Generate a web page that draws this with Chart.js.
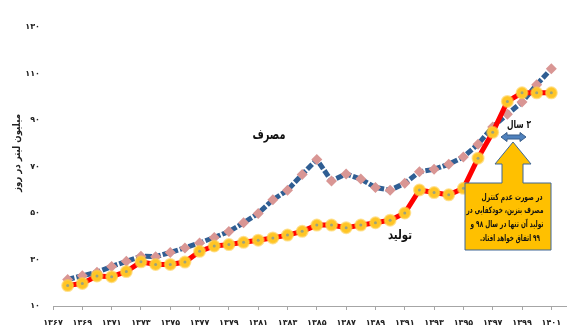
<!DOCTYPE html>
<html>
<head>
<meta charset="utf-8">
<script src="https://cdn.jsdelivr.net/npm/chart.js@4"></script>
<style>
  html, body { margin: 0; padding: 0; background: #fff; }
</style>
</head>
<body>
<canvas id="fuelChart" width="580" height="333"></canvas>
<script>
// --- Data: gasoline, million litres per day ---
const years = [1368, 1369, 1370, 1371, 1372, 1373, 1374, 1375, 1376, 1377,
               1378, 1379, 1380, 1381, 1382, 1383, 1384, 1385, 1386, 1387,
               1388, 1389, 1390, 1391, 1392, 1393, 1394, 1395, 1396, 1397,
               1398, 1399, 1400, 1401];
const consumption = [21.4, 23.0, 24.5, 27.0, 29.2, 31.4, 31.2, 33.0, 35.0, 37.1,
                     39.5, 42.0, 45.8, 49.8, 55.7, 59.8, 66.6, 73.0, 63.8, 66.8,
                     64.6, 61.0, 59.8, 62.8, 67.7, 68.8, 71.0, 74.1, 79.6, 87.0,
                     92.5, 97.7, 105.2, 112.0];
const production = [18.8, 19.7, 22.9, 22.6, 24.8, 29.0, 27.9, 27.9, 28.9, 33.5,
                    35.8, 36.4, 37.4, 38.3, 39.3, 40.5, 42.1, 44.8, 44.8, 43.7,
                    44.8, 45.8, 46.9, 50.0, 59.9, 58.8, 57.8, 60.6, 73.6, 84.7,
                    98.0, 101.7, 101.7, 101.7];
const yearTicks = [1367, 1369, 1371, 1373, 1375, 1377, 1379, 1381, 1383,
                   1385, 1387, 1389, 1391, 1393, 1395, 1397, 1399, 1401];
const valueTicks = [10, 30, 50, 70, 90, 110, 130];

const FONT = "'DejaVu Sans', sans-serif";

// western -> persian digits
const fa = n => String(n).replace(/\d/g, d => '۰۱۲۳۴۵۶۷۸۹'[d]);

const pts = vals => years.map((y, i) => ({ x: y, y: vals[i] }));

// --- Labels, callout and arrows on top of the lines ---
const notes = {
  id: 'notes',
  afterDatasetsDraw(chart) {
    const ctx = chart.ctx;
    ctx.save();

    // y axis title
    ctx.save();
    ctx.translate(17, 153);
    ctx.rotate(-Math.PI / 2);
    ctx.direction = 'rtl';
    ctx.textAlign = 'center';
    ctx.textBaseline = 'middle';
    ctx.fillStyle = '#222';
    ctx.font = 'bold 10px ' + FONT;
    ctx.fillText('میلیون لیتر در روز', 0, 0, 78);
    ctx.restore();

    // series names
    ctx.direction = 'rtl';
    ctx.textAlign = 'center';
    ctx.textBaseline = 'middle';
    ctx.fillStyle = '#111';
    ctx.font = 'bold 14px ' + FONT;
    ctx.fillText('مصرف', 269, 135, 33);
    ctx.font = 'bold 13px ' + FONT;
    ctx.fillText('تولید', 400, 236, 24);

    // up arrow callout
    ctx.beginPath();
    ctx.moveTo(465, 250);
    ctx.lineTo(465, 183);
    ctx.lineTo(502, 183);
    ctx.lineTo(502, 164);
    ctx.lineTo(495, 164);
    ctx.lineTo(513, 142);
    ctx.lineTo(531, 164);
    ctx.lineTo(523, 164);
    ctx.lineTo(523, 183);
    ctx.lineTo(551, 183);
    ctx.lineTo(551, 250);
    ctx.closePath();
    ctx.fillStyle = '#FFC000';
    ctx.fill();
    ctx.strokeStyle = '#3F6796';
    ctx.lineWidth = 1;
    ctx.stroke();

    ctx.fillStyle = '#111';
    ctx.font = 'bold 9px ' + FONT;
    const lines = ['در صورت عدم کنترل', 'مصرف بنزین، خودکفایی در',
                   'تولید آن تنها در سال ۹۸ و', '۹۹ اتفاق خواهد افتاد.'];
    const widths = [61, 77, 73, 60];
    const centres = [512, 505, 507, 510];
    lines.forEach((t, i) => ctx.fillText(t, centres[i], 197.5 + i * 13.6, widths[i]));

    // double arrow: two year gap
    const ay = 137, x0 = 501, x1 = 526;
    ctx.beginPath();
    ctx.moveTo(x0, ay);
    ctx.lineTo(x0 + 6, ay - 4.5);
    ctx.lineTo(x0 + 6, ay - 2);
    ctx.lineTo(x1 - 6, ay - 2);
    ctx.lineTo(x1 - 6, ay - 4.5);
    ctx.lineTo(x1, ay);
    ctx.lineTo(x1 - 6, ay + 4.5);
    ctx.lineTo(x1 - 6, ay + 2);
    ctx.lineTo(x0 + 6, ay + 2);
    ctx.lineTo(x0 + 6, ay + 4.5);
    ctx.closePath();
    ctx.fillStyle = '#4F81BD';
    ctx.fill();
    ctx.strokeStyle = '#385D8A';
    ctx.stroke();

    ctx.fillStyle = '#111';
    ctx.font = 'bold 11px ' + FONT;
    ctx.fillText('۲ سال', 519, 125, 24);

    ctx.restore();
  }
};

new Chart(document.getElementById('fuelChart'), {
  type: 'line',
  data: {
    datasets: [
      {
        // small centre dot on each production marker
        data: pts(production),
        showLine: false,
        pointStyle: 'circle',
        pointRadius: 1.5,
        pointBackgroundColor: '#9CA27C',
        pointBorderWidth: 0,
        order: 0
      },
      {
        label: 'تولید',
        data: pts(production),
        borderColor: '#FF0000',
        borderWidth: 5,
        pointStyle: 'circle',
        pointRadius: 5.5,
        pointBackgroundColor: '#FFC524',
        pointBorderColor: 'rgba(255, 205, 70, 0.6)',
        pointBorderWidth: 2,
        order: 1
      },
      {
        label: 'مصرف',
        data: pts(consumption),
        borderColor: '#2F5E93',
        borderWidth: 5,
        borderDash: [7, 2],
        pointStyle: 'rectRot',
        pointRadius: 5.5,
        pointBackgroundColor: '#D99694',
        pointBorderWidth: 0,
        order: 2
      }
    ]
  },
  options: {
    responsive: false,
    animation: false,
    devicePixelRatio: 1,
    layout: { padding: { top: 27, right: 14, left: 0, bottom: 0 } },
    plugins: {
      legend: { display: false },
      tooltip: { enabled: false }
    },
    scales: {
      x: {
        type: 'linear',
        min: 1367,
        max: 1402,
        afterBuildTicks: scale => {
          scale.ticks = yearTicks.map(v => ({ value: v }));
        },
        afterFit: scale => { scale.height = 27; },
        grid: {
          drawOnChartArea: false,
          drawTicks: true,
          tickLength: 4,
          color: '#A6A6A6'
        },
        border: { display: true, color: '#A6A6A6', width: 1 },
        ticks: {
          autoSkip: false,
          maxRotation: 0,
          padding: 8,
          color: '#222',
          font: { family: FONT, size: 8, weight: 'bold' },
          callback: v => fa(v)
        }
      },
      y: {
        min: 10,
        max: 130,
        afterBuildTicks: scale => {
          scale.ticks = valueTicks.map(v => ({ value: v }));
        },
        afterFit: scale => { scale.width = 53; },
        grid: { display: false, drawTicks: false },
        border: { display: false },
        ticks: {
          padding: 13,
          color: '#222',
          font: { family: FONT, size: 8, weight: 'bold' },
          callback: v => fa(v)
        }
      }
    }
  },
  plugins: [notes]
});
</script>
</body>
</html>
